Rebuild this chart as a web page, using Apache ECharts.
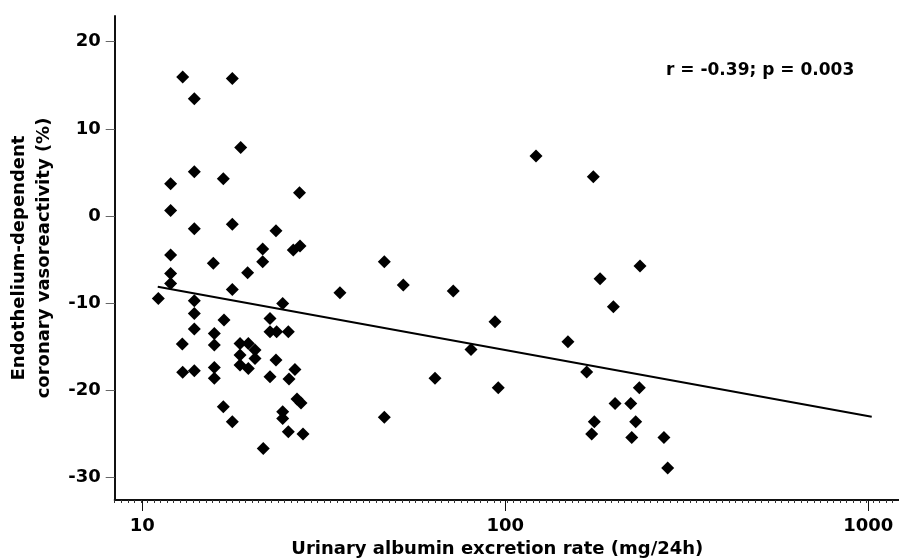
<!DOCTYPE html>
<html>
<head>
<meta charset="utf-8">
<script src="https://cdn.jsdelivr.net/npm/echarts@6/dist/echarts.min.js"></script>
<style>
  html, body { margin: 0; padding: 0; background: #fff; }
  #chart { width: 899px; height: 560px; }
</style>
</head>
<body>
<div id="chart"></div>
<script>
// urinary albumin excretion rate (mg/24h)
const uaer = [
  11.07, 11.97, 11.97, 11.97, 11.97, 11.97, 12.92, 12.89, 12.92,
  13.91, 13.91, 13.91, 13.91, 13.91, 13.91, 13.91,
  15.69, 15.79, 15.79, 15.79, 15.79, 16.72, 16.79, 16.72,
  17.70, 17.70, 17.70, 17.70, 18.67, 19.51, 18.59, 19.59, 20.44, 18.59, 20.44, 18.59, 19.59,
  21.46, 21.46, 21.54, 22.48, 22.48, 22.48, 23.35, 23.45, 23.35,
  24.37, 24.37, 24.37, 25.25, 25.36, 25.25, 26.06, 27.19, 26.34, 27.11, 26.68, 27.37, 27.72,
  35.04, 46.42, 46.42, 52.36, 64.02, 71.90, 80.45, 93.67, 95.65,
  121.5, 148.8, 167.6, 173.0, 174.8, 175.9, 182.4, 198.5, 200.6,
  221.6, 223.0, 228.7, 234.0, 235.0, 273.6, 280.1
]
// endothelium-dependent coronary vasoreactivity (%)
const vaso = [
  -9.44, 3.70, 0.65, -4.47, -6.57, -7.72, 15.94, -14.68, -17.92,
  13.45, 5.08, -1.46, -9.71, -11.16, -12.96, -17.74,
  -5.42, -13.45, -14.79, -17.35, -18.61, 4.28, -11.93, -21.87,
  15.79, -0.92, -8.41, -23.59, 7.88, -6.50, -14.60, -14.60, -15.37, -15.94, -16.32, -17.09, -17.47,
  -3.78, -5.24, -26.64, -11.73, -13.27, -18.43, -1.69, -13.27, -16.51,
  -10.01, -22.44, -23.20, -13.27, -18.69, -24.74, -3.90, -3.44, -17.58, 2.67, -20.99, -21.44, -25.0,
  -8.80, -5.24, -23.08, -7.91, -18.61, -8.60, -15.29, -12.12, -19.69,
  6.88, -14.41, -17.89, -25.0, 4.51, -23.59, -7.19, -10.40, -21.48,
  -21.48, -25.38, -23.59, -19.69, -5.73, -25.38, -28.90
]
// regression line end points
const fitX = [11.03, 1022]
const fitY = [-8.11, -23.02]

const xTicks = [10, 100, 1000]
const yTicks = [-30, -20, -10, 0, 10, 20]
const xMin = 8.395, xMax = 1215
const yMin = -32.56, yMax = 22.95

const font = 'DejaVu Sans'
const chart = echarts.init(document.getElementById('chart'))

// same box for the data grid and the two helper grids, no auto shrinking
const gridBox = {left: 114.7, right: 0, top: 16, bottom: 60, outerBoundsMode: 'none', containLabel: false}

let option = {
  backgroundColor: '#fff',
  animation: false,
  grid: [gridBox, gridBox, gridBox],
  xAxis: [
    {
      // data axis
      type: 'log',
      logBase: 10,
      gridIndex: 0,
      min: xMin,
      max: xMax,
      axisLine: {onZero: false, lineStyle: {color: '#111', width: 2}},
      axisTick: {show: false},
      axisLabel: {show: false},
      splitLine: {show: false},
      name: 'Urinary albumin excretion rate (mg/24h)',
      nameLocation: 'middle',
      nameGap: 40,
      nameTextStyle: {
        fontFamily: font,
        fontWeight: 'bold',
        fontSize: 18,
        color: '#000',
        padding: [0, 19, 0, 0]
      }
    },
    {
      // decade ticks and labels
      type: 'value',
      gridIndex: 1,
      min: Math.log10(xMin),
      max: Math.log10(xMax),
      axisLine: {show: false, onZero: false},
      axisTick: {
        customValues: xTicks.map(Math.log10),
        length: 11,
        lineStyle: {color: '#111', width: 1}
      },
      axisLabel: {
        customValues: xTicks.map(Math.log10),
        formatter: v => String(Math.round(Math.pow(10, v))),
        margin: 17,
        fontFamily: font,
        fontWeight: 'bold',
        fontSize: 18,
        color: '#000'
      },
      splitLine: {show: false}
    },
    {
      // small evenly spaced ticks along the axis
      type: 'value',
      gridIndex: 2,
      min: 0,
      max: 120,
      interval: 1,
      axisLine: {show: false, onZero: false},
      axisTick: {length: 3, lineStyle: {color: '#333', width: 1}},
      axisLabel: {show: false},
      splitLine: {show: false}
    }
  ],
  yAxis: [
    {
      type: 'value',
      gridIndex: 0,
      min: yMin,
      max: yMax,
      axisLine: {show: true, onZero: false, lineStyle: {color: '#111', width: 2}},
      axisTick: {
        customValues: yTicks,
        length: 9,
        lineStyle: {color: '#666', width: 1}
      },
      axisLabel: {
        customValues: yTicks,
        margin: 14,
        fontFamily: font,
        fontWeight: 'bold',
        fontSize: 18,
        color: '#000'
      },
      splitLine: {show: false},
      name: 'Endothelium-dependent\ncoronary vasoreactivity (%)',
      nameLocation: 'middle',
      nameRotate: 90,
      nameGap: 46,
      nameTextStyle: {
        fontFamily: font,
        fontWeight: 'bold',
        fontSize: 18,
        lineHeight: 25,
        color: '#000'
      }
    },
    {type: 'value', gridIndex: 1, show: false, min: 0, max: 1},
    {type: 'value', gridIndex: 2, show: false, min: 0, max: 1}
  ],
  graphic: [
    {
      type: 'text',
      left: 666,
      top: 62,
      style: {
        text: 'r = -0.39; p = 0.003',
        fontFamily: font,
        fontWeight: 'bold',
        fontSize: 17,
        fill: '#000'
      }
    }
  ],
  series: [
    {
      type: 'scatter',
      xAxisIndex: 0,
      yAxisIndex: 0,
      symbol: 'diamond',
      symbolSize: 13,
      itemStyle: {color: '#000', opacity: 1},
      data: uaer.map((x, i) => [x, vaso[i]])
    },
    {
      type: 'line',
      xAxisIndex: 0,
      yAxisIndex: 0,
      symbol: 'none',
      lineStyle: {color: '#000', width: 2},
      data: fitX.map((x, i) => [x, fitY[i]])
    }
  ]
}
chart.setOption(option)
</script>
</body>
</html>
